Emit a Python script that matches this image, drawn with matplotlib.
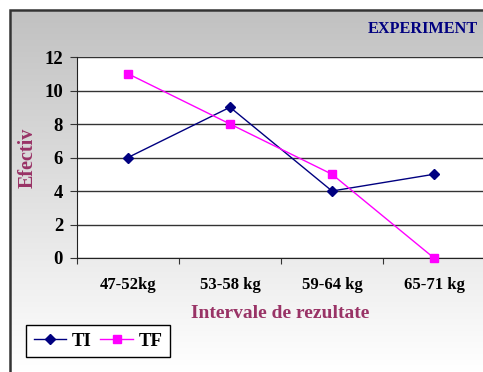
import numpy as np
import matplotlib
matplotlib.use("Agg")
import matplotlib.pyplot as plt
from matplotlib.patches import Rectangle

categories = ["47-52kg", "53-58 kg", "59-64 kg", "65-71 kg"]
ti = [6, 9, 4, 5]
tf = [11, 8, 5, 0]
yticks = [0, 2, 4, 6, 8, 10, 12]

W, H = 483, 372
fig = plt.figure(figsize=(W / 100, H / 100), dpi=100)
serif = ["Liberation Serif", "DejaVu Serif"]

# background gradient
bg = fig.add_axes([0, 0, 1, 1], zorder=-10)
grad = np.linspace(0, 1, 256).reshape(-1, 1)
top_c = np.array([0.75, 0.75, 0.75])
bot_c = np.array([1.0, 1.0, 1.0])
img = top_c + (bot_c - top_c) * grad[..., None]
img = img.reshape(256, 1, 3)
bg.imshow(img, aspect="auto", extent=[0, 1, 0, 1], origin="upper")
bg.set_xlim(0, 1); bg.set_ylim(0, 1)
bg.axis("off")
bg.add_patch(Rectangle((0, 0), 10 / W, 1, color="white", zorder=1))
bg.add_patch(Rectangle((0, 1 - 10 / H), 1, 10 / H, color="white", zorder=1))
fig.patches.append(Rectangle((10 / W, -0.1), 1.2, 1.1 - 10 / H, transform=fig.transFigure,
                             fill=False, edgecolor="#333333", linewidth=1.8, zorder=5))

ax = fig.add_axes([77 / W, 1 - 258 / H, (485 - 77) / W, (258 - 57) / H])
ax.set_facecolor("white")
x = np.arange(len(categories))
ax.plot(x, ti, color="#000080", marker="D", markersize=5, linewidth=1, label="TI", clip_on=False, zorder=3)
ax.plot(x, tf, color="#FF00FF", marker="s", markersize=6, linewidth=1, label="TF", clip_on=False, zorder=3)
ax.set_xlim(-0.5, 3.5)
ax.set_ylim(0, 12)
ax.set_yticks(yticks)
ax.set_yticklabels([str(v) for v in yticks], fontfamily=serif, fontweight="bold", fontsize=13.5)
ax.yaxis.grid(True, color="#333333", linewidth=1)
ax.set_axisbelow(True)
ax.set_xticks([-0.5, 0.5, 1.5, 2.5, 3.5])
ax.set_xticklabels([])
ax.set_xticks(x, minor=True)
ax.set_xticklabels(categories, minor=True, fontfamily=serif, fontweight="bold", fontsize=12)
ax.tick_params(axis="x", which="minor", length=0, pad=14)
ax.tick_params(axis="x", which="major", length=4, direction="out", color="#333333")
ax.tick_params(axis="y", length=5, direction="out", pad=5, color="#333333")
for s in ["top", "right"]:
    ax.spines[s].set_visible(False)
ax.spines["left"].set_color("#222222")
ax.spines["bottom"].set_color("#222222")

fig.text(478 / W, 1 - 29 / H, "EXPERIMENT", ha="right", va="center", color="#000080",
         fontfamily=serif, fontweight="bold", fontsize=11.7)
fig.text(28 / W, 1 - 158 / H, "Efectiv", rotation=90, ha="center", va="center", color="#993366",
         fontfamily=serif, fontweight="bold", fontsize=14.5)
fig.text(280 / W, 1 - 314 / H, "Intervale de rezultate", ha="center", va="center", color="#993366",
         fontfamily=serif, fontweight="bold", fontsize=14)

leg = fig.legend(loc="lower left", bbox_to_anchor=(26 / W, 1 - 357 / H), ncol=2,
                 prop={"family": serif, "weight": "bold", "size": 13.5},
                 frameon=True, fancybox=False, edgecolor="black", framealpha=1,
                 handlelength=1.75, handletextpad=0.3, columnspacing=0.45,
                 borderpad=0.4, borderaxespad=0, handleheight=0.6)
leg.get_frame().set_linewidth(1)

fig.savefig("out.png", dpi=100)
